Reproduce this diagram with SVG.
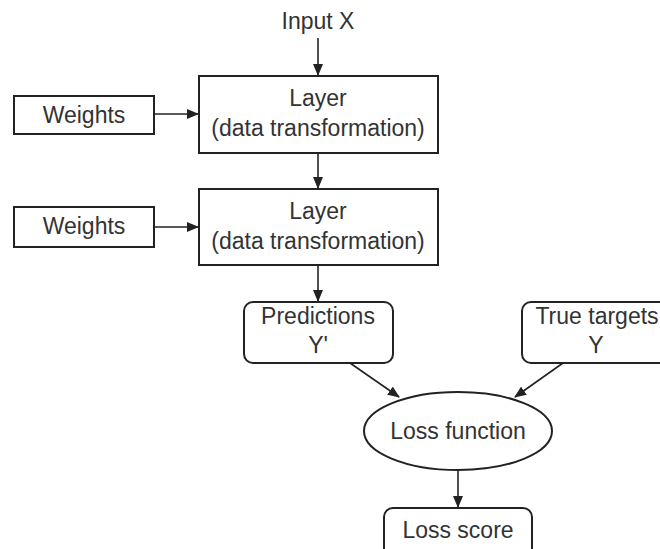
<svg xmlns="http://www.w3.org/2000/svg" width="660" height="549" viewBox="0 0 660 549">
<style>
text{font-family:"Liberation Sans",Arial,sans-serif;font-size:23px;fill:#333;text-anchor:middle}
.box{fill:#fff;stroke:#222;stroke-width:2}
.edge{stroke:#222;stroke-width:1.6;fill:none;marker-end:url(#ah)}
</style>
<defs>
<marker id="ah" markerWidth="12" markerHeight="10" refX="11" refY="5" orient="auto" markerUnits="userSpaceOnUse">
<path d="M0,0 L12,5 L0,10 Z" fill="#222"/>
</marker>
</defs>
<rect width="660" height="549" fill="#fff"/>
<g id="connectors">
<line class="edge" x1="318" y1="38" x2="318" y2="75"/>
<line class="edge" x1="154" y1="114" x2="198" y2="114"/>
<line class="edge" x1="318" y1="153" x2="318" y2="188"/>
<line class="edge" x1="154" y1="227" x2="198" y2="227"/>
<line class="edge" x1="318" y1="265" x2="318" y2="301"/>
<line class="edge" x1="350" y1="363" x2="399" y2="397"/>
<line class="edge" x1="563" y1="363" x2="515" y2="397"/>
<line class="edge" x1="458" y1="470" x2="458" y2="507"/>
</g>
<g id="input"><text x="318" y="29">Input X</text></g>
<g id="weights1"><rect class="box" x="14" y="96" width="140" height="38"/><text x="84" y="123">Weights</text></g>
<g id="layer1"><rect class="box" x="199" y="76" width="239" height="77"/><text x="318" y="106">Layer</text><text x="318" y="136">(data transformation)</text></g>
<g id="weights2"><rect class="box" x="14" y="207" width="140" height="40"/><text x="84" y="234">Weights</text></g>
<g id="layer2"><rect class="box" x="199" y="189" width="239" height="76"/><text x="318" y="219">Layer</text><text x="318" y="249">(data transformation)</text></g>
<g id="predictions"><rect class="box" x="244" y="302" width="149" height="61" rx="9" stroke-width="1.5"/><text x="318" y="324">Predictions</text><text x="318" y="353">Y'</text></g>
<g id="targets"><rect class="box" x="522" y="302" width="150" height="61" rx="9" stroke-width="1.5"/><text x="597" y="324">True targets</text><text x="596" y="353">Y</text></g>
<g id="loss"><ellipse class="box" cx="458" cy="431" rx="94" ry="39" stroke-width="1.5"/><text x="458" y="439">Loss function</text></g>
<g id="score"><rect class="box" x="384" y="508" width="148" height="50" rx="9" stroke-width="1.5"/><text x="458" y="538">Loss score</text></g>
</svg>
